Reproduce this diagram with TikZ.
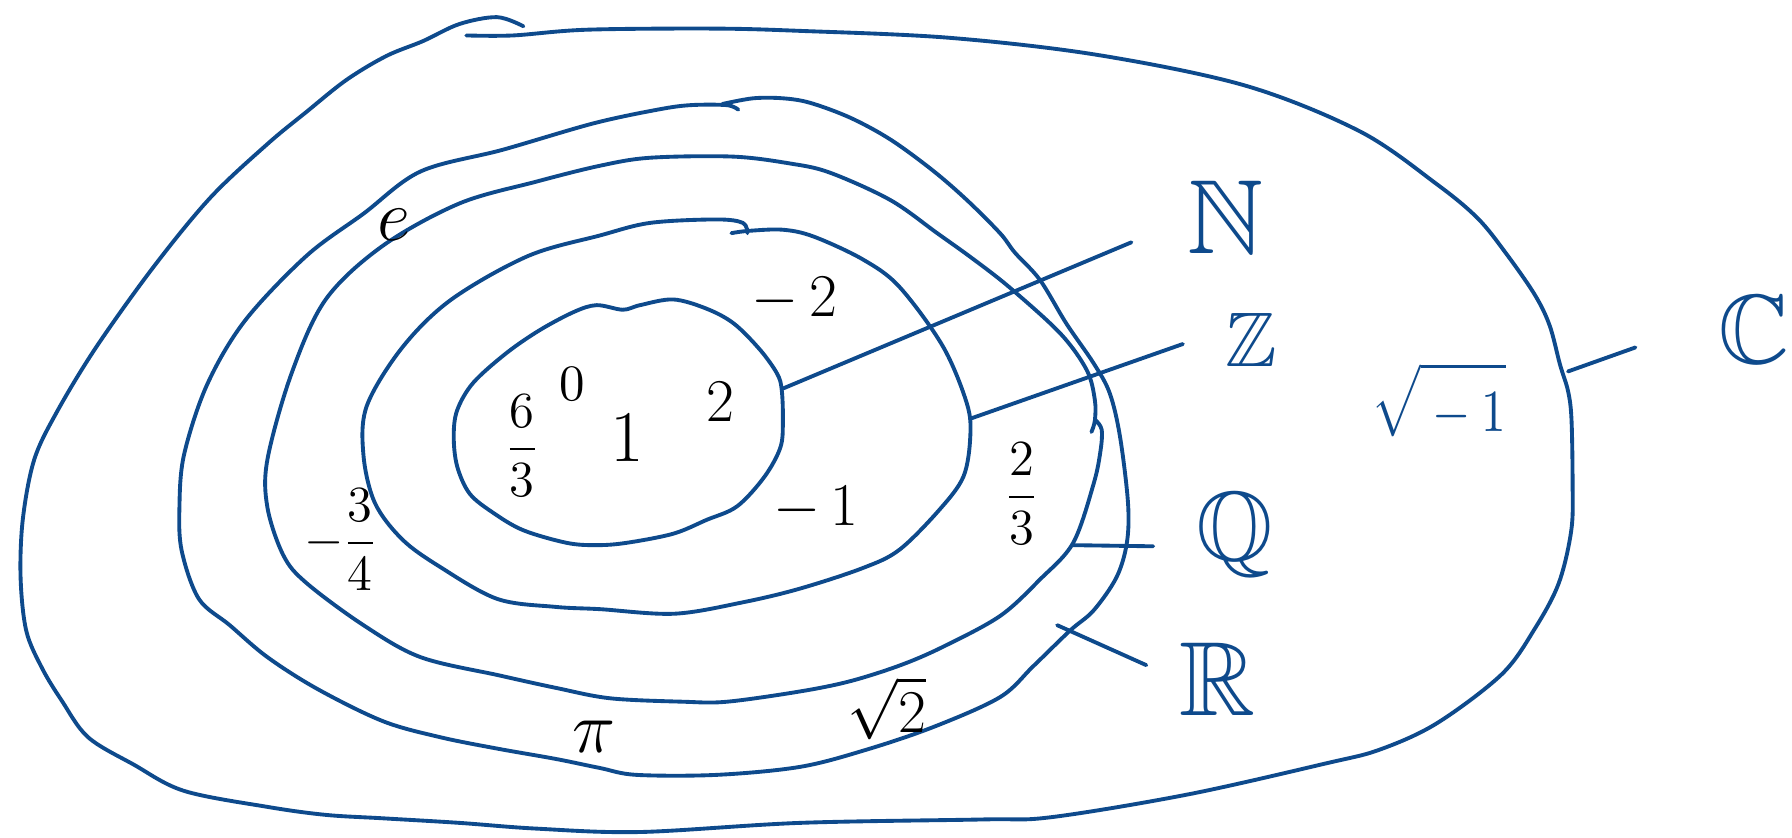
\documentclass[tikz,border=0pt]{standalone}
\usepackage{amsmath,amssymb}
\usepackage{graphicx}
\definecolor{ink}{RGB}{14,74,140}
\newcommand{\myfs}[1]{\fontsize{#1}{#1}\selectfont}
\tikzset{
  setline/.style={draw=ink, line width=1.1pt, line cap=round, line join=round},
  connector/.style={draw=ink, line width=1.1pt, line cap=round},
  num/.style={text=black, inner sep=0pt},
  setlabel/.style={text=ink, inner sep=0pt},
}
\begin{document}
\begin{tikzpicture}[x=0.011429cm, y=-0.011429cm]
\useasboundingbox[fill=white] (0,0) rectangle (1568,733);

% C (outermost)
\draw[setline] plot[smooth, tension=0.55] coordinates {
(408,31) (449,31) (513,26) (624,25) (700,27) (830,33) (960,48) (1090,75) (1190,115)
(1257,161) (1293,191) (1318,222) (1343,258) (1356,285) (1365,319) (1372,342) (1375,366)
(1376,420) (1375,463) (1364,510) (1343,550) (1314,590) (1257,633) (1207,656) (1160,668)
(1040,695) (920,715) (860,717) (700,720) (560,728) (469,725) (402,720) (335,716) (285,713)
(234,706) (161,692) (117,669) (77,645) (54,613) (37,585) (23,552) (18,505) (20,454)
(30,402) (50,360) (84,304) (134,234) (184,173) (234,126) (268,98) (303,70) (338,49)
(370,36) (402,21) (435,15) (458,23)};

% R
\draw[setline] plot[smooth, tension=0.55] coordinates {
(632,91) (659,86) (685,86) (709,90) (744,103) (779,122) (816,149) (846,175) (875,204)
(888,221) (910,245) (933,283) (957,318) (971,344) (980,382) (987,440) (986,475) (977,505)
(957,534) (936,552) (904,583) (875,610) (817,636) (758,656) (700,671) (627,678) (557,678)
(525,672) (486,664) (435,655) (385,645) (335,631) (278,603) (234,575) (201,547) (174,524)
(159,482) (157,444) (161,398) (181,337) (214,281) (268,224) (318,187) (368,150) (440,131)
(519,108) (575,96) (604,92) (636,92) (646,96)};

% Q
\draw[setline] plot[smooth, tension=0.55] coordinates {
(959,368) (964,376) (963,394) (957,423) (939,475) (910,507) (875,539) (825,566)
(788,582) (744,596) (700,605) (636,614) (598,614) (534,611) (487,602) (437,591) (368,575)
(318,547) (268,510) (248,486) (234,444) (234,402) (255,327) (285,262) (335,215) (402,178)
(469,159) (525,145) (569,138) (641,137) (691,143) (726,151) (779,175) (820,204) (852,227)
(884,252) (928,292) (951,324) (958,350) (958,368) (955,378)};

% Z
\draw[setline] plot[smooth, tension=0.55] coordinates {
(640,204) (655,202) (685,201) (712,207) (755,227) (787,251) (825,303) (846,353) (849,382)
(843,417) (822,446) (787,481) (755,497) (700,515) (650,527) (590,537) (525,533) (486,531)
(435,524) (385,496) (352,472) (328,440) (318,398) (321,355) (352,304) (395,262) (462,224)
(525,206) (569,195) (627,192) (650,195) (654,204)};

% N
\draw[setline] plot[smooth cycle, tension=0.55] coordinates {
(522,267) (545,271) (560,267) (589,262) (618,270) (642,283) (665,306) (680,327) (684,341)
(685,367) (683,391) (669,417) (645,443) (618,455) (589,467) (548,475) (522,477) (496,475)
(458,464) (432,449) (411,432) (400,408) (397,382) (400,359) (414,335) (443,309) (472,289)
(502,273)};

% elements
\node[num] (e) at (345,197) {\myfs{20}$e$};
\node[num] (m34) at (298,472) {\myfs{14}$-\dfrac{3}{4}$};
\node[num] (s63) at (457,390) {\myfs{14}$\dfrac{6}{3}$};
\node[num] (zero) at (501,336) {\scalebox{1.45}{$0$}};
\node[num] (one) at (549,383) {\myfs{21}$1$};
\node[num] (two) at (630,352) {\myfs{16}$2$};
\node[num] (m2) at (695,262) {\myfs{17}$-\,2$};
\node[num] (m1) at (714,445) {\myfs{17}$-\,1$};
\node[num] (t23) at (894,432) {\myfs{14}$\dfrac{2}{3}$};
\node[num] (pi) at (520,645) {\myfs{22}$\pi$};
\node[num] (sq2) at (776,620) {\myfs{16}$\sqrt{2}$};
\node[setlabel] (sqm1) at (1259,350) {\scalebox{1.4}[1.7]{$\sqrt{\rule{0pt}{1.0em}-1}$}};

% set labels
\node[setlabel] (lN) at (1072,190) {\myfs{30}$\mathbb{N}$};
\node[setlabel] (lZ) at (1095,297) {\myfs{22}$\mathbb{Z}$};
\node[setlabel] (lQ) at (1080,468) {\myfs{28}$\mathbb{Q}$};
\node[setlabel] (lR) at (1065,594) {\myfs{30}$\mathbb{R}$};
\node[setlabel] (lC) at (1535,288) {\myfs{28}$\mathbb{C}$};

% connectors
\coordinate (nA) at (685,340);  \coordinate (nB) at (990,212);
\coordinate (zA) at (850,366);  \coordinate (zB) at (1035,301);
\coordinate (qA) at (939,477);  \coordinate (qB) at (1009,478);
\coordinate (rA) at (925,547);  \coordinate (rB) at (1003,582);
\coordinate (cA) at (1372,325); \coordinate (cB) at (1431,304);
\draw[connector] (nA) -- (nB);
\draw[connector] (zA) -- (zB);
\draw[connector] (qA) -- (qB);
\draw[connector] (rA) -- (rB);
\draw[connector] (cA) -- (cB);
\end{tikzpicture}
\end{document}
